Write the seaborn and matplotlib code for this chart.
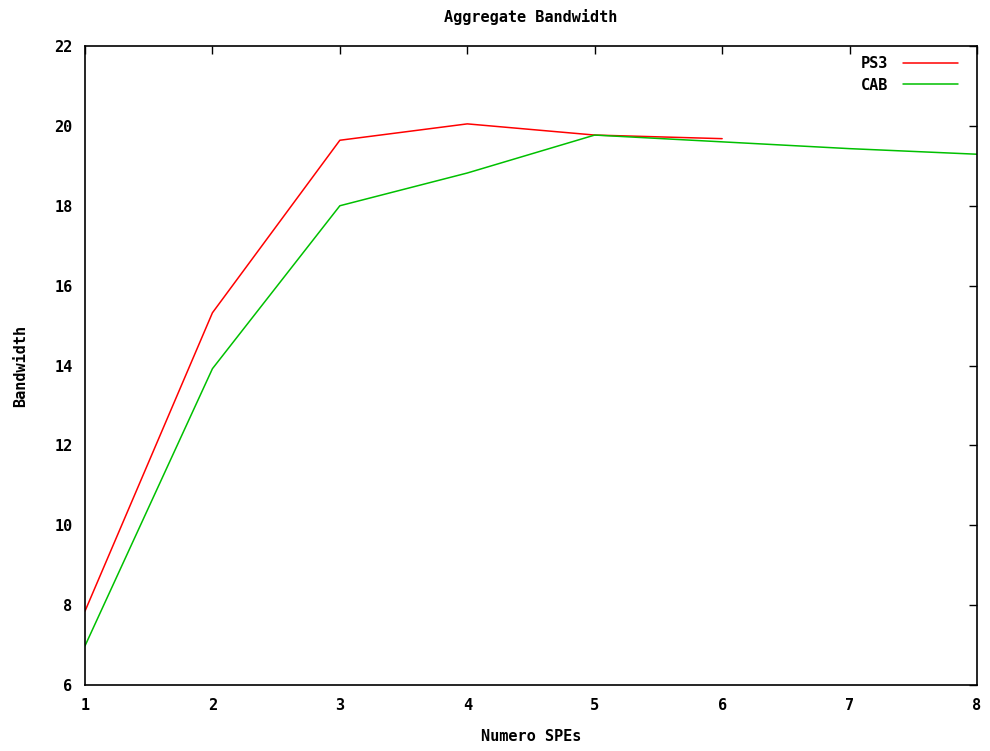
import pandas as pd
import seaborn as sns
import matplotlib.pyplot as plt

# Values
spes_ps3 = [1, 2, 3, 4, 5, 6]
bw_ps3 = [7.85, 15.32, 19.64, 20.05, 19.77, 19.68]

spes_cab = [1, 2, 3, 4, 5, 6, 7, 8]
bw_cab = [6.98, 13.92, 18.0, 18.82, 19.77, 19.6, 19.43, 19.29]

df = pd.concat([
    pd.DataFrame({"spe": spes_ps3, "bw": bw_ps3, "serie": "PS3"}),
    pd.DataFrame({"spe": spes_cab, "bw": bw_cab, "serie": "CAB"}),
])

sns.set_style("white")
plt.rcParams['font.family'] = ['DejaVu Sans Mono', 'DejaVu Sans']
plt.rcParams['font.weight'] = 'bold'
plt.rcParams['text.color'] = 'black'
plt.rcParams['axes.labelcolor'] = 'black'

fig = plt.figure(figsize=(9.9, 7.51), dpi=100)
ax = fig.add_axes([85 / 990, 1 - 685 / 751, (977 - 85) / 990, (685 - 46) / 751])

sns.lineplot(data=df, x="spe", y="bw", hue="serie",
             palette={"PS3": "#ff0000", "CAB": "#00c000"},
             linewidth=1.1, ax=ax, legend=True)

ax.set_xlim(1, 8)
ax.set_ylim(6, 22)
ax.set_xticks(range(1, 9))
ax.set_yticks(range(6, 23, 2))
ax.tick_params(direction="in", top=True, right=True, length=6, width=1,
               labelsize=11, colors="black", pad=9)
for lab in ax.get_xticklabels() + ax.get_yticklabels():
    lab.set_fontweight("bold")
for sp in ax.spines.values():
    sp.set_color("black")
    sp.set_linewidth(1.2)

ax.set_xlabel("Numero SPEs", fontsize=11, fontweight="bold", labelpad=12)
ax.set_ylabel("Bandwidth", fontsize=11, fontweight="bold", labelpad=19)
ax.set_title("Aggregate Bandwidth", fontsize=11, fontweight="bold", pad=17,
             color="black")

ax.legend(title=None, loc="upper right", bbox_to_anchor=(0.99, 1.0),
          frameon=False, markerfirst=False,
          handlelength=3.6, handletextpad=1.0, fontsize=11,
          borderaxespad=0.25, labelspacing=0.45)

plt.savefig("out.png", dpi=100)
